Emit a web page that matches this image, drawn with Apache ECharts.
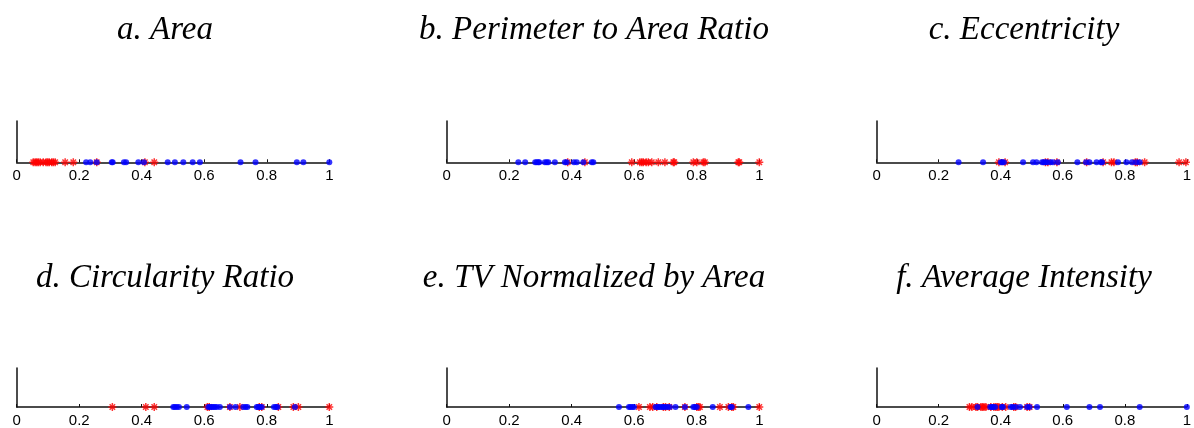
<!DOCTYPE html>
<html>
<head>
<meta charset="utf-8">
<title>Feature distributions</title>
<script src="https://cdn.jsdelivr.net/npm/echarts@6.0.0/dist/echarts.min.js"></script>
<style>
  html, body { margin: 0; padding: 0; background: #ffffff; }
  #chart { width: 1194px; height: 428px; }
</style>
</head>
<body>
<div id="chart"></div>
<script>
// panel titles, in reading order
const panelTitles = [
  "a. Area",
  "b. Perimeter to Area Ratio",
  "c. Eccentricity",
  "d. Circularity Ratio",
  "e. TV Normalized by Area",
  "f. Average Intensity",
];

// x-axis ticks shared by every panel
const xTicks = [0, 0.2, 0.4, 0.6, 0.8, 1];

// a. Area
const areaRed = [0.053, 0.059, 0.064, 0.069, 0.075, 0.085, 0.094, 0.099, 0.104, 0.112, 0.117, 0.123, 0.155, 0.181, 0.256, 0.41, 0.44];
const areaBlue = [0.222, 0.235, 0.256, 0.304, 0.307, 0.343, 0.35, 0.389, 0.407, 0.483, 0.506, 0.533, 0.563, 0.586, 0.716, 0.764, 0.896, 0.917, 1.0];

// b. Perimeter to Area Ratio
const perimRed = [0.387, 0.442, 0.592, 0.618, 0.624, 0.629, 0.638, 0.645, 0.656, 0.677, 0.698, 0.725, 0.728, 0.789, 0.8, 0.821, 0.826, 0.933, 0.936, 1.0];
const perimBlue = [0.229, 0.251, 0.283, 0.288, 0.293, 0.296, 0.314, 0.32, 0.325, 0.346, 0.378, 0.384, 0.407, 0.416, 0.437, 0.464, 0.469];

// c. Eccentricity
const eccRed = [0.394, 0.414, 0.544, 0.552, 0.581, 0.677, 0.73, 0.757, 0.765, 0.834, 0.84, 0.864, 0.975, 0.997];
const eccBlue = [0.264, 0.343, 0.4, 0.405, 0.41, 0.472, 0.504, 0.515, 0.533, 0.538, 0.544, 0.549, 0.56, 0.568, 0.584, 0.647, 0.675, 0.686, 0.709, 0.723, 0.727, 0.778, 0.805, 0.823, 0.837, 0.848];

// d. Circularity Ratio
const circRed = [0.306, 0.413, 0.44, 0.61, 0.616, 0.682, 0.714, 0.776, 0.784, 0.837, 0.885, 0.901, 1.0];
const circBlue = [0.501, 0.506, 0.512, 0.519, 0.544, 0.613, 0.618, 0.624, 0.629, 0.634, 0.64, 0.65, 0.682, 0.7, 0.725, 0.732, 0.738, 0.768, 0.773, 0.778, 0.784, 0.823, 0.829, 0.834, 0.89];

// e. TV Normalized by Area
const tvRed = [0.615, 0.65, 0.659, 0.672, 0.693, 0.7, 0.712, 0.762, 0.8, 0.805, 0.81, 0.874, 0.901, 0.912, 0.917, 1.0];
const tvBlue = [0.551, 0.583, 0.588, 0.594, 0.599, 0.668, 0.675, 0.68, 0.688, 0.693, 0.698, 0.706, 0.714, 0.732, 0.762, 0.789, 0.794, 0.8, 0.851, 0.908, 0.912, 0.965];

// f. Average Intensity
const intRed = [0.299, 0.307, 0.32, 0.325, 0.336, 0.341, 0.346, 0.352, 0.368, 0.378, 0.384, 0.389, 0.394, 0.405, 0.416, 0.442, 0.448, 0.485, 0.493];
const intBlue = [0.325, 0.366, 0.371, 0.376, 0.382, 0.403, 0.407, 0.432, 0.439, 0.448, 0.462, 0.485, 0.493, 0.517, 0.613, 0.686, 0.72, 0.848, 1.0];

const redSets = [areaRed, perimRed, eccRed, circRed, tvRed, intRed];
const blueSets = [areaBlue, perimBlue, eccBlue, circBlue, tvBlue, intBlue];

// layout of the 2x3 panels
const colLeft = [16.7, 446.7, 876.7];
const colTitleX = [165, 594, 1024];
const rowTop = [121, 368];
const rowTitleTop = [14, 262];
const axisWidth = 312.6;
const axisHeight = 41.3;

// MATLAB style '*' marker (plus + cross), stroked only
const STAR = "path://M5 0L5 10M0 5L10 5M1.6 1.6L8.4 8.4M8.4 1.6L1.6 8.4";
const AXIS_COLOR = "#111111";

const chart = echarts.init(document.getElementById("chart"), null, { renderer: "canvas" });

const grids = [];
const xAxes = [];
const yAxes = [];
const titles = [];
const series = [];

panelTitles.forEach((text, i) => {
  const row = Math.floor(i / 3);
  const col = i % 3;
  grids.push({
    left: colLeft[col],
    top: rowTop[row],
    width: axisWidth,
    height: axisHeight,
    containLabel: false,
  });
  xAxes.push({
    type: "value",
    gridIndex: i,
    min: xTicks[0],
    max: xTicks[xTicks.length - 1],
    interval: xTicks[1] - xTicks[0],
    axisLine: { show: true, lineStyle: { color: AXIS_COLOR, width: 1.5 } },
    axisTick: { show: true, inside: true, length: 3, lineStyle: { color: AXIS_COLOR } },
    axisLabel: {
      show: true,
      margin: 6,
      color: "#000000",
      fontFamily: "Liberation Sans, Arial, sans-serif",
      fontSize: 15,
    },
    splitLine: { show: false },
  });
  yAxes.push({
    type: "value",
    gridIndex: i,
    min: 0,
    max: 1,
    axisLine: { show: true, lineStyle: { color: AXIS_COLOR, width: 1.5 } },
    axisTick: { show: false },
    axisLabel: { show: false },
    splitLine: { show: false },
  });
  titles.push({
    text,
    left: colTitleX[col],
    top: rowTitleTop[row],
    textAlign: "center",
    padding: 0,
    textStyle: {
      fontFamily: "Liberation Serif, DejaVu Serif, serif",
      fontStyle: "italic",
      fontWeight: "normal",
      fontSize: 33,
      color: "#000000",
    },
  });
  series.push({
    type: "scatter",
    xAxisIndex: i,
    yAxisIndex: i,
    clip: false,
    symbol: STAR,
    symbolSize: 8,
    itemStyle: { color: "transparent", borderColor: "#ff0000", borderWidth: 1.5 },
    emphasis: { disabled: true },
    data: redSets[i].map((v) => [v, 0]),
    z: 3,
  });
  series.push({
    type: "scatter",
    xAxisIndex: i,
    yAxisIndex: i,
    clip: false,
    symbol: "circle",
    symbolSize: 6,
    itemStyle: { color: "#0000ff" },
    emphasis: { disabled: true },
    data: blueSets[i].map((v) => [v, 0]),
    z: 4,
  });
});

chart.setOption({
  animation: false,
  backgroundColor: "#ffffff",
  title: titles,
  grid: grids,
  xAxis: xAxes,
  yAxis: yAxes,
  series,
});
</script>
</body>
</html>
